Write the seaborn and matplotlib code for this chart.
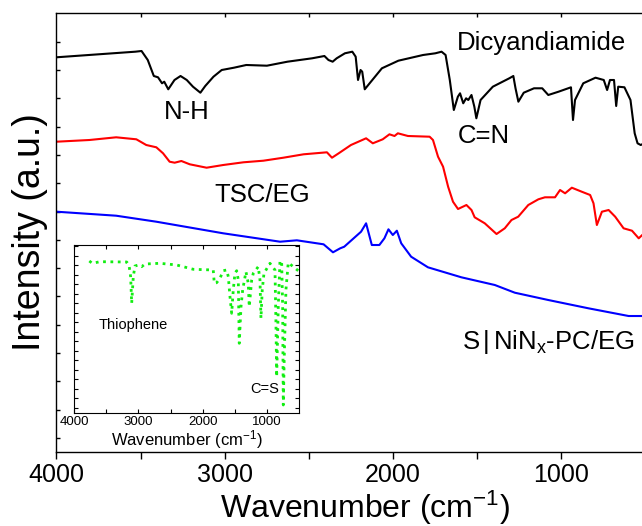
import numpy as np
import pandas as pd
import matplotlib
matplotlib.use("Agg")
import matplotlib.pyplot as plt
import seaborn as sns
from matplotlib.ticker import MultipleLocator, FixedLocator

# ---------------- data ----------------
dicy_wn = [4000, 3531, 3494, 3457, 3421, 3396, 3372, 3359, 3335, 3298, 3262, 3225, 3188, 3144,
           3115, 3066, 3017, 2944, 2871, 2748, 2626, 2479, 2406, 2382, 2357, 2333, 2284, 2240,
           2220, 2206, 2191, 2181, 2166, 2137, 2064, 1966, 1819, 1746, 1709, 1685, 1660, 1636,
           1612, 1599, 1580, 1563, 1550, 1531, 1514, 1502, 1477, 1404, 1306, 1282, 1269, 1252,
           1220, 1159, 1110, 1074, 1013, 939, 927, 915, 866, 793, 744, 724, 707, 683, 670, 658,
           621, 585, 560, 543, 524, 504]
dicy_int = [395.2, 400.8, 401.5, 392.5, 376.5, 375.2, 369.2, 370.8, 363.2, 372.5, 376.5, 372.5,
            365.8, 359.8, 366.5, 375.8, 382.5, 384.8, 387.5, 386.8, 390.8, 394.2, 396.5, 392.5,
            390.8, 394.2, 399.2, 400.8, 395.8, 372.5, 382.5, 380.8, 363.2, 369.2, 384.2, 391.8,
            397.5, 399.2, 400.8, 397.5, 372.5, 342.5, 355.8, 359.2, 349.2, 354.2, 352.5, 357.5,
            345.8, 334.2, 352.5, 365.8, 374.2, 376.5, 364.2, 350.8, 359.8, 364.2, 364.2, 357.5,
            360.8, 365.2, 332.5, 352.5, 369.2, 374.8, 372.5, 362.5, 372.5, 372.5, 346.5, 365.8,
            365.2, 352.5, 319.2, 309.2, 307.5, 309.2]

tsc_wn = [4000, 3804, 3645, 3525, 3466, 3406, 3366, 3327, 3297, 3257, 3207, 3107, 3008, 2888,
          2769, 2650, 2530, 2391, 2361, 2321, 2248, 2158, 2118, 2059, 2019, 1989, 1969, 1909,
          1780, 1760, 1730, 1700, 1670, 1641, 1611, 1561, 1531, 1512, 1452, 1382, 1333, 1293,
          1253, 1193, 1133, 1094, 1034, 1004, 974, 934, 875, 825, 805, 785, 755, 715, 676, 626,
          576, 536, 504]
tsc_int = [310.8, 312.5, 315.2, 313.2, 307.5, 305.2, 299.2, 290.8, 289.8, 291.5, 288.2, 284.8,
           287.5, 290.2, 291.8, 294.8, 298.2, 300.2, 294.8, 299.2, 307.5, 314.2, 309.2, 313.2,
           318.2, 316.5, 319.2, 316.5, 315.8, 312.5, 295.8, 285.8, 265.8, 250.8, 243.5, 247.5,
           242.5, 235.2, 229.2, 218.5, 224.2, 232.5, 235.8, 247.5, 253.2, 255.2, 255.2, 262.5,
           259.2, 264.8, 260.8, 257.5, 249.2, 227.5, 240.8, 242.5, 235.8, 224.2, 221.8, 214.2,
           219.2]

nin_wn = [4000, 3645, 3406, 3008, 2670, 2570, 2411, 2355, 2312, 2288, 2188, 2158, 2124, 2079,
          2049, 2025, 1999, 1975, 1949, 1890, 1790, 1591, 1392, 1273, 1074, 835, 596, 505]
nin_int = [240.8, 236.8, 230.8, 219.2, 210.8, 212.2, 208.2, 200.2, 204.2, 205.8, 220.8, 229.2,
           207.5, 207.5, 214.2, 223.2, 217.5, 221.8, 209.2, 195.8, 185.2, 175.2, 167.5, 159.8,
           152.5, 144.2, 136.5, 136.5]

thio_wn = [3762, 3716, 3596, 3182, 3146, 3120, 3104, 3079, 3053, 3001, 2949, 2897, 2664, 2405,
           2147, 1837, 1821, 1784, 1733, 1681, 1629, 1603, 1577, 1551, 1526, 1500, 1473, 1448,
           1433, 1406, 1380, 1329, 1293, 1278, 1240, 1215, 1138, 1111, 1096, 1076, 1049, 956,
           878, 863, 852, 827, 801, 775, 759, 749, 734, 708, 672, 594, 517]
thio_int = [152, 149.7, 151.3, 151, 148, 136.3, 109.7, 136.3, 147, 148, 146.3, 149, 149.7, 148,
            143.7, 143, 129.7, 130.3, 134.7, 142.3, 143, 136.3, 116.3, 99.7, 123, 139.7, 142.3,
            133, 69.7, 106.3, 123, 141.3, 129.7, 106.3, 133, 139.7, 146.3, 133, 94.7, 123, 139.7,
            149.7, 143, 89.7, 36.3, 106.3, 151.3, 152.3, 106.3, 8.0, 56.3, 123, 150.3, 146.3,
            142.3]

xticks_main = [4000, 3000, 2000, 1000]

# ---------------- style ----------------
sns.set_theme(style="ticks")
plt.rcParams["font.family"] = ["Liberation Sans", "DejaVu Sans"]
plt.rcParams["mathtext.fontset"] = "custom"
plt.rcParams["mathtext.rm"] = "Liberation Sans"
plt.rcParams["mathtext.it"] = "Liberation Sans:italic"
plt.rcParams["mathtext.bf"] = "Liberation Sans:bold"
plt.rcParams["axes.linewidth"] = 1.0
for k in ["text.color", "axes.labelcolor", "xtick.color", "ytick.color", "axes.edgecolor"]:
    plt.rcParams[k] = "black"

fig = plt.figure(figsize=(6.42, 5.26), dpi=100)
ax = fig.add_axes([0.088, 0.1416, 0.915, 0.8337])

main_df = pd.concat([
    pd.DataFrame({"wn": dicy_wn, "intensity": dicy_int, "sample": "Dicyandiamide"}),
    pd.DataFrame({"wn": tsc_wn, "intensity": tsc_int, "sample": "TSC/EG"}),
    pd.DataFrame({"wn": nin_wn, "intensity": nin_int, "sample": "S|NiNx-PC/EG"}),
])
sns.lineplot(data=main_df, x="wn", y="intensity", hue="sample",
             palette={"Dicyandiamide": "black", "TSC/EG": "#ff0000", "S|NiNx-PC/EG": "#0000ff"},
             sort=False, estimator=None, linewidth=1.5, legend=False, ax=ax)

ax.set_xlim(4000, 505)
ax.set_ylim(1, 439.5)
ax.set_xticks(xticks_main)
ax.xaxis.set_minor_locator(MultipleLocator(500))
ax.tick_params(axis="x", which="both", direction="out", length=5, width=1,
               labelsize=18, pad=3)
ax.yaxis.set_major_locator(FixedLocator(np.arange(14.6, 439, 28.3)))
ax.tick_params(axis="y", which="both", direction="in", length=3, width=1, labelleft=False)
ax.spines["right"].set_visible(False)
top = ax.secondary_xaxis("top")
top.set_xticks([3500, 3000, 2500, 2000, 1500, 1000])
top.tick_params(direction="in", length=3, width=1, labeltop=False)
top.spines["top"].set_visible(False)

ax.set_xlabel("Wavenumber (cm$^{-1}$)", fontsize=23, labelpad=0)
ax.xaxis.set_label_coords(0.525, -0.085)
ax.set_ylabel("Intensity (a.u.)", fontsize=27, labelpad=6)

ax.text(1615, 402.5, "Dicyandiamide", fontsize=18.5, ha="left", va="baseline")
ax.text(3364, 333.2, "N-H", fontsize=18.5, ha="left", va="baseline")
ax.text(1615, 309.2, "C=N", fontsize=18.5, ha="left", va="baseline")
ax.text(2779, 250.8, "TSC/EG", fontsize=18.5, ha="center", va="baseline")
ax.text(1585, 103.2, "S$\\,$|$\\,$NiN$_\\mathrm{x}$-PC/EG", fontsize=18.5, ha="left", va="baseline")

# ---------------- inset ----------------
axin = fig.add_axes([74 / 642, (526 - 413) / 526, 225 / 642, 168 / 526])
thio_df = pd.DataFrame({"wn": thio_wn, "intensity": thio_int})
sns.lineplot(data=thio_df, x="wn", y="intensity", color="#11ee11", linestyle=":",
             linewidth=2.0, sort=False, estimator=None, ax=axin)
axin.set_xlim(4000, 505)
axin.set_ylim(0, 168)
axin.set_xticks(xticks_main)
axin.xaxis.set_minor_locator(MultipleLocator(500))
axin.yaxis.set_major_locator(FixedLocator(np.arange(5.5, 168, 9.5)))
axin.tick_params(which="both", direction="in", length=3, width=0.8, top=True, right=True,
                 labelleft=False, labelsize=9.5, pad=2)
for s in axin.spines.values():
    s.set_linewidth(0.8)
axin.set_xlabel("Wavenumber (cm$^{-1}$)", fontsize=12, labelpad=0)
axin.set_ylabel("")
axin.text(3612, 83.7, "Thiophene", fontsize=10.5, ha="left", va="baseline")
axin.text(1256, 19.7, "C=S", fontsize=10.5, ha="left", va="baseline")

fig.savefig("out.png", dpi=100)
